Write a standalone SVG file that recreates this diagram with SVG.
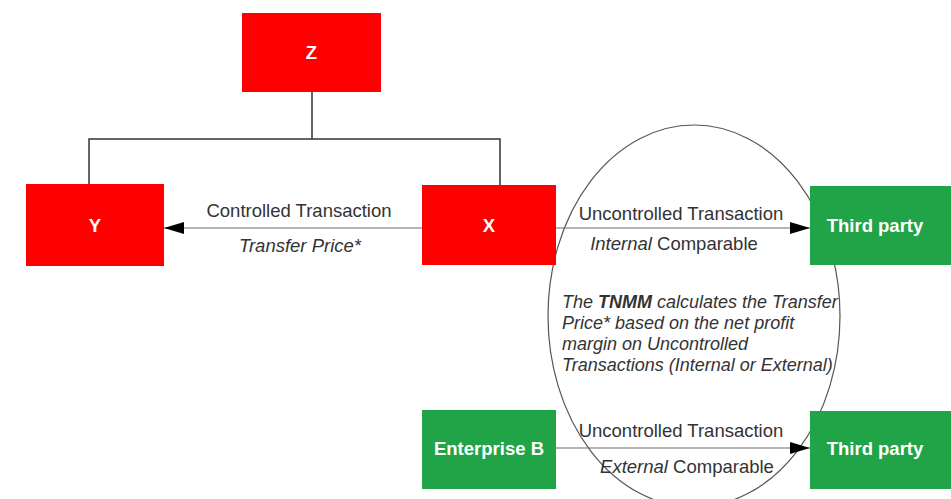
<svg xmlns="http://www.w3.org/2000/svg" width="951" height="499" viewBox="0 0 951 499">
  <style>
    .red { fill: #fe0000; }
    .green { fill: #21a447; }
    .lbl { font-family: "Liberation Sans", Arial, sans-serif; font-size: 18.5px; font-weight: bold; fill: #ffffff; text-anchor: middle; }
    .edge { font-family: "Liberation Sans", Arial, sans-serif; font-size: 18.5px; fill: #333333; text-anchor: middle; }
    .note { font-family: "Liberation Sans", Arial, sans-serif; font-size: 18px; font-style: italic; fill: #333333; }
    .tree { stroke: #333333; stroke-width: 1.5; fill: none; }
    .flow { stroke: #6a6a6a; stroke-width: 1.2; fill: none; marker-end: url(#head); }
  </style>
  <defs>
    <marker id="head" viewBox="0 0 20 12" refX="20" refY="6" markerWidth="20" markerHeight="12" markerUnits="userSpaceOnUse" orient="auto">
      <path d="M0,0 L20,6 L0,12 Z" fill="#000000"/>
    </marker>
  </defs>

  <rect width="951" height="499" fill="#ffffff"/>

  <!-- boundary of the comparable transactions -->
  <g id="tnmm-scope">
    <ellipse cx="694" cy="316" rx="146" ry="191" fill="none" stroke="#555555" stroke-width="1.2"/>
    <text class="note" x="562" y="308">The <tspan font-weight="bold">TNMM</tspan> calculates the Transfer</text>
    <text class="note" x="562" y="329">Price* based on the net profit</text>
    <text class="note" x="562" y="350">margin on Uncontrolled</text>
    <text class="note" x="562" y="371">Transactions (Internal or External)</text>
  </g>

  <!-- connectors -->
  <g id="connectors">
    <polyline class="tree" points="312,92 312,139"/>
    <polyline class="tree" points="89,184 89,139 500,139 500,185"/>
    <line class="flow" x1="422" y1="228" x2="164" y2="228"/>
    <line class="flow" x1="556" y1="228" x2="810" y2="228"/>
    <line class="flow" x1="556" y1="448" x2="810" y2="448"/>
    <text class="edge" x="299" y="217">Controlled Transaction</text>
    <text class="edge" x="300" y="252" font-style="italic">Transfer Price*</text>
    <text class="edge" x="681" y="220">Uncontrolled Transaction</text>
    <text class="edge" x="674" y="250"><tspan font-style="italic">Internal</tspan> Comparable</text>
    <text class="edge" x="681" y="437">Uncontrolled Transaction</text>
    <text class="edge" x="687" y="473"><tspan font-style="italic">External</tspan> Comparable</text>
  </g>

  <g id="node-z">
    <rect class="red" x="242" y="13" width="139" height="79"/>
    <text class="lbl" x="311.5" y="59">Z</text>
  </g>
  <g id="node-y">
    <rect class="red" x="26" y="184" width="138" height="82"/>
    <text class="lbl" x="95" y="232">Y</text>
  </g>
  <g id="node-x">
    <rect class="red" x="422" y="185" width="134" height="80"/>
    <text class="lbl" x="489" y="232">X</text>
  </g>
  <g id="node-third-party-1">
    <rect class="green" x="810" y="186" width="150" height="79"/>
    <text class="lbl" x="875" y="232">Third party</text>
  </g>
  <g id="node-enterprise-b">
    <rect class="green" x="422" y="410" width="134" height="79"/>
    <text class="lbl" x="489" y="455">Enterprise B</text>
  </g>
  <g id="node-third-party-2">
    <rect class="green" x="810" y="411" width="150" height="78"/>
    <text class="lbl" x="875" y="455">Third party</text>
  </g>
</svg>
